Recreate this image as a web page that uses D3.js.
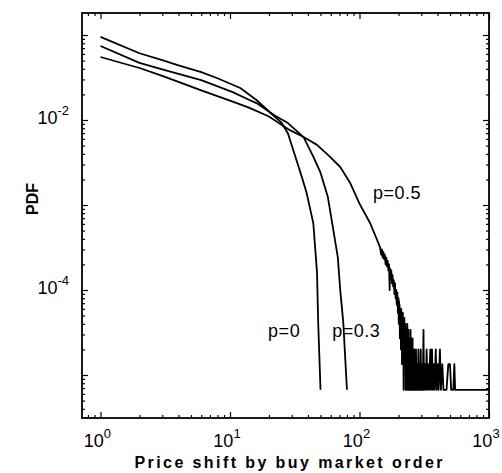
<!DOCTYPE html>
<html>
<head>
<meta charset="utf-8">
<script src="https://cdn.jsdelivr.net/npm/d3@7"></script>
<style>
body{margin:0;background:#fff;}
text{font-family:"Liberation Sans",Arial,sans-serif;fill:#000;}
.tick line{stroke:#000;stroke-width:1.2;}
</style>
</head>
<body>
<div id="chart"></div>
<script>
// p = 0 (top curve at small shifts)
let p0X = [1, 2, 3, 4, 6, 8, 12, 16, 20, 25, 28, 32, 36, 39, 44, 47, 48, 50];
let p0Y = [0.095, 0.061, 0.0505, 0.044, 0.0365, 0.031, 0.0238, 0.0172, 0.0126, 0.0093, 0.0070, 0.0037, 0.0021, 0.0014, 6.1e-4, 1.6e-4, 4.1e-5, 6.7e-6];

// p = 0.3
let p03X = [1, 2, 3, 4, 6, 10.5, 14, 16, 22, 28, 37, 44, 50, 57, 68, 71, 75, 80];
let p03Y = [0.0743, 0.047, 0.0394, 0.035, 0.0295, 0.0213, 0.0173, 0.0158, 0.0114, 0.0092, 0.0063, 0.0037, 0.0024, 0.00124, 2.44e-4, 1.0e-4, 4.1e-5, 6.7e-6];

// p = 0.5 (lowest at small shifts, long noisy tail)
let p05X = [1, 2, 3, 4, 6, 10, 14, 20, 29, 37, 47, 59, 71, 85, 100, 121,
  144, 147, 149, 151, 153, 155, 157, 159, 161, 163, 165, 167, 169, 171, 172, 174, 176, 178, 180,
  182, 184, 186, 188, 190, 192, 194, 196, 198, 200, 201, 202, 203, 204, 205, 206, 207, 208, 209,
  210, 211, 212, 213, 214, 215, 216, 217, 218, 219, 220, 221, 222, 223, 224, 225, 226, 227, 228,
  229, 230, 231, 232, 233, 234, 235, 236, 237, 238, 239, 240, 241, 242, 243, 244, 245, 246, 247,
  248, 249, 250, 251, 252, 253, 254, 255, 256, 257, 258, 260, 261, 263, 264, 266, 267, 269, 270,
  273, 276, 279, 282, 285, 288, 291, 294, 297, 300, 305, 308, 312, 315, 320, 324, 330,
  334, 340, 345, 352, 357, 363, 368, 375, 380, 388, 394, 402, 408, 418, 425, 436, 445,
  470, 485, 500, 510, 530, 540, 548, 1000];
let p05Y = [0.0551, 0.0409, 0.033, 0.0281, 0.0223, 0.0169, 0.014, 0.011, 0.0076, 0.0063, 0.0051, 0.0037, 0.0028, 0.0018, 1.04e-3, 6.1e-4,
  3.2e-4, 2.6e-4, 3.0e-4, 2.4e-4, 2.8e-4, 2.3e-4, 2.6e-4, 2.0e-4, 2.4e-4, 1.9e-4, 2.2e-4, 1.7e-4, 2.0e-4, 1.0e-4, 1.8e-4, 1.4e-4, 1.7e-4, 1.2e-4, 1.5e-4,
  1.1e-4, 1.3e-4, 9.0e-5, 1.2e-4, 8.0e-5, 1.0e-4, 6.7e-5, 9.4e-5, 5.4e-5, 8.0e-5, 4.0e-5, 7.4e-5, 4.7e-5, 6.7e-5, 2.7e-5, 6.0e-5, 3.4e-5, 5.4e-5, 2.0e-5,
  6.0e-5, 3.4e-5, 4.7e-5, 1.34e-5, 4.0e-5, 2.7e-5, 5.4e-5, 2.0e-5, 4.0e-5, 6.7e-6, 3.4e-5, 2.0e-5, 4.7e-5, 1.34e-5, 3.4e-5, 2.7e-5, 4.0e-5, 6.7e-6, 2.7e-5,
  1.34e-5, 3.4e-5, 2.0e-5, 2.7e-5, 6.7e-6, 4.0e-5, 1.34e-5, 2.7e-5, 6.7e-6, 2.0e-5, 3.4e-5, 1.34e-5, 2.7e-5, 6.7e-6, 2.0e-5, 2.7e-5, 6.7e-6, 2.0e-5, 1.34e-5,
  3.4e-5, 6.7e-6, 2.0e-5, 1.34e-5, 2.7e-5, 6.7e-6, 2.0e-5, 6.7e-6, 1.34e-5, 2.7e-5, 6.7e-6, 2.0e-5, 6.7e-6, 1.34e-5, 6.7e-6, 2.0e-5, 6.7e-6, 1.34e-5, 6.7e-6,
  2.0e-5, 6.7e-6, 1.34e-5, 6.7e-6, 2.0e-5, 6.7e-6, 1.34e-5, 6.7e-6, 2.0e-5, 6.7e-6, 1.34e-5, 6.7e-6, 3.4e-5, 6.7e-6, 1.34e-5, 6.7e-6, 2.0e-5,
  6.7e-6, 1.34e-5, 6.7e-6, 2.0e-5, 6.7e-6, 2.0e-5, 6.7e-6, 1.34e-5, 6.7e-6, 2.0e-5, 6.7e-6, 1.34e-5, 6.7e-6, 2.0e-5, 6.7e-6, 1.34e-5, 6.7e-6,
  6.7e-6, 1.34e-5, 1.34e-5, 6.7e-6, 6.7e-6, 1.34e-5, 6.7e-6, 6.7e-6];

let seriesLabels = ['p=0', 'p=0.3', 'p=0.5'];
let xTickLabels = [1, 10, 100, 1000];
let xTickExp = ['0', '1', '2', '3'];
let yTickLabels = [1e-2, 1e-4];
let yTickExp = ['-2', '-4'];

let margin = {left:82, top:13, right:13, bottom:55},
    width = 502 - margin.left - margin.right,
    height = 473 - margin.top - margin.bottom;

let x = d3.scaleLog().domain([0.72, 1000]).range([0, width]);
let y = d3.scaleLog().domain([3.12e-6, 0.1815]).range([height, 0]);

let svg = d3.select('#chart')
  .append('svg')
  .attr('width', 502)
  .attr('height', 473)
  .append('g')
  .attr('transform', `translate(${margin.left}, ${margin.top})`);

let xMinor = x.ticks().filter(d => Math.abs(Math.log10(d) % 1) > 1e-6);
let xMajor = x.ticks().filter(d => Math.abs(Math.log10(d) % 1) < 1e-6);
let yMinor = y.ticks().filter(d => Math.abs(Math.log10(d) % 1) > 1e-6);
let yMajor = y.ticks().filter(d => Math.abs(Math.log10(d) % 1) < 1e-6);

// inside-pointing ticks on all four sides
function addTicks(axis, vals, size, transform){
  svg.append('g')
    .attr('transform', transform)
    .call(axis.tickValues(vals).tickSize(-size).tickFormat(''))
    .call(g => g.select('.domain').remove());
}
addTicks(d3.axisBottom(x), xMinor, 3, `translate(0,${height})`);
addTicks(d3.axisBottom(x), xMajor, 6, `translate(0,${height})`);
addTicks(d3.axisTop(x), xMinor, 3, 'translate(0,0)');
addTicks(d3.axisTop(x), xMajor, 6, 'translate(0,0)');
addTicks(d3.axisLeft(y), yMinor, 3, 'translate(0,0)');
addTicks(d3.axisLeft(y), yMajor, 6, 'translate(0,0)');
addTicks(d3.axisRight(y), yMinor, 3, `translate(${width},0)`);
addTicks(d3.axisRight(y), yMajor, 6, `translate(${width},0)`);

svg.append('rect')
  .attr('width', width)
  .attr('height', height)
  .attr('fill', 'none')
  .attr('stroke', '#000')
  .attr('stroke-width', 1.8);

// tick labels with superscripts
xTickLabels.forEach((v, i) => {
  let t = svg.append('text')
    .attr('x', x(v) - 3)
    .attr('y', height + 29)
    .attr('text-anchor', 'middle')
    .style('font-size', '18px');
  t.append('tspan').text('10');
  t.append('tspan').attr('dy', -9).style('font-size', '13px').text(xTickExp[i]);
});
yTickLabels.forEach((v, i) => {
  let t = svg.append('text')
    .attr('x', -13)
    .attr('y', y(v) + 4)
    .attr('text-anchor', 'end')
    .style('font-size', '18px');
  t.append('tspan').text('10');
  t.append('tspan').attr('dy', -9).style('font-size', '13px').text(yTickExp[i]);
});

// axis titles
svg.append('text')
  .attr('x', width / 2 + 3)
  .attr('y', height + 50)
  .attr('text-anchor', 'middle')
  .attr('textLength', 308)
  .attr('lengthAdjust', 'spacing')
  .style('font-size', '16px')
  .style('font-weight', 'bold')
  .text('Price shift by buy market order');

svg.append('text')
  .attr('transform', `translate(${-44},${186}) rotate(-90)`)
  .attr('text-anchor', 'middle')
  .style('font-size', '16px')
  .style('font-weight', 'bold')
  .text('PDF');

let line = d3.line()
  .x(d => x(d[0]))
  .y(d => y(d[1]));

let series = [
  d3.zip(p0X, p0Y),
  d3.zip(p03X, p03Y),
  d3.zip(p05X, p05Y)
];

svg.selectAll('.curve')
  .data(series)
  .join('path')
  .attr('class', 'curve')
  .attr('d', line)
  .attr('fill', 'none')
  .attr('stroke', '#000')
  .attr('stroke-width', 1.8)
  .attr('stroke-linejoin', 'round');

// curve labels, anchored in data coordinates
let labelPos = [[19.7, 2.8e-5], [61.5, 2.8e-5], [127, 1.18e-3]];
svg.selectAll('.plabel')
  .data(seriesLabels)
  .join('text')
  .attr('class', 'plabel')
  .attr('x', (d, i) => x(labelPos[i][0]))
  .attr('y', (d, i) => y(labelPos[i][1]))
  .style('font-size', '18px')
  .style('letter-spacing', '0.5px')
  .text(d => d);
</script>
</body>
</html>
